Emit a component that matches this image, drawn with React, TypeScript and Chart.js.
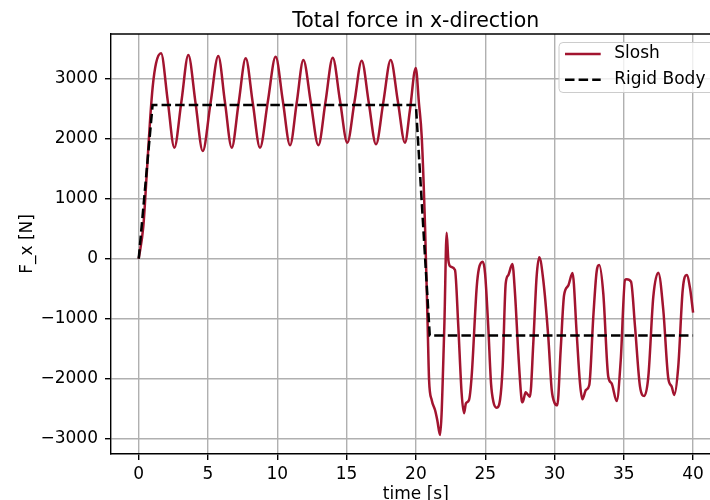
import React, { useEffect, useRef } from "react";
import { Chart, registerables } from "chart.js";

Chart.register(...registerables);

const titleText = "Total force in x-direction";
const xLabel = "time [s]";
const yLabel = "F_x [N]";
const seriesNames = ["Slosh", "Rigid Body"];

const xTicks = [0, 5, 10, 15, 20, 25, 30, 35, 40];
const yTicks = [-3000, -2000, -1000, 0, 1000, 2000, 3000];

const sloshT = [
  0, 0.33, 0.58, 0.82, 1.01, 1.25, 1.61, 2.09, 2.57, 3.08, 3.58, 4.1, 4.62, 5.18, 5.74, 6.22, 6.71, 7.21, 7.72,
  8.23, 8.75, 9.31, 9.88, 10.4, 10.92, 11.4, 11.88, 12.42, 12.96, 13.48, 14.0, 14.52, 15.05, 15.57, 16.09, 16.6,
  17.12, 17.65, 18.18, 18.7, 19.21, 19.57, 19.99, 20.22, 20.42, 20.66, 20.85, 20.95, 21.14, 21.38, 21.54, 21.74,
  22.05, 22.22, 22.34, 22.51, 22.82, 23.06, 23.3, 23.47, 23.61, 23.83, 24.02, 24.39, 24.55, 24.82, 24.99, 25.22,
  25.42, 25.59, 25.83, 26.07, 26.26, 26.48, 26.67, 26.96, 27.15, 27.39, 27.63, 27.7, 27.92, 28.06, 28.23, 28.47,
  28.71, 28.9, 29.19, 29.55, 29.8, 30.0, 30.2, 30.45, 30.69, 30.99, 31.3, 31.6, 31.84, 32.01, 32.27, 32.51, 32.8,
  33.04, 33.23, 33.52, 33.88, 34.12, 34.49, 34.78, 35.09, 35.21, 35.52, 35.81, 36.17, 36.48, 36.77, 37.13, 37.49,
  37.85, 38.21, 38.46, 38.64, 38.93, 39.25, 39.54, 39.78, 40.0,
];
const sloshF = [
  0, 533, 1423, 2312, 2867, 3257, 3423, 2640, 1850, 2620, 3395, 2595, 1795, 2590, 3378, 2614, 1850, 2595, 3340,
  2595, 1850, 2610, 3367, 2628, 1890, 2600, 3312, 2600, 1890, 2620, 3350, 2640, 1933, 2616, 3300, 2600,
  1906, 2610, 3312, 2620, 1933, 2478, 3180, 2590, 2033, 533, -1133, -2022, -2355, -2522, -2688, -2938,
  -1133, 433, -22, -133, -188, -1133, -2243, -2577, -2410, -2355, -1967, -467, -160, -50, -243, -1133,
  -2077, -2383, -2483, -2355, -1800, -410, -272, -88, -577, -1577, -2355, -2393, -2227, -2260, -2300, -1410,
  -300, 23, -355, -1300, -2188, -2400, -2443, -1500, -610, -450, -238, -1243, -2077, -2343, -2188, -2105, -967,
  -217, -105, -577, -1967, -2077, -2372, -1688, -355, -343, -383, -1133, -2133, -2288, -1967, -633, -233,
  -855, -1993, -2133, -2272, -1800, -522, -272, -493, -900,
];

const rigidT = [0, 1, 20, 21, 40];
const rigidF = [0, 2560, 2560, -1280, -1280];

const FONT = "'DejaVu Sans', 'Liberation Sans', sans-serif";
const SLOSH_COLOR = "#a2142f";

const decorPlugin = {
  id: "decor",
  afterDraw(chart: any) {
    const { ctx, chartArea } = chart;
    const { left, top, right, bottom } = chartArea;
    ctx.save();
    // top spine
    ctx.strokeStyle = "#000";
    ctx.lineWidth = 1.4;
    ctx.beginPath();
    ctx.moveTo(left, top);
    ctx.lineTo(right, top);
    ctx.stroke();

    // title
    ctx.fillStyle = "#000";
    ctx.font = `20.5px ${FONT}`;
    ctx.textAlign = "center";
    ctx.textBaseline = "alphabetic";
    const cx = 415.8;
    ctx.fillText(titleText, cx, 26.7);

    // x label
    ctx.font = `17px ${FONT}`;
    ctx.fillText(xLabel, cx, 499);

    // y label
    ctx.save();
    ctx.translate(31.5, (top + bottom) / 2);
    ctx.rotate(-Math.PI / 2);
    ctx.fillText(yLabel, 0, 0);
    ctx.restore();

    // legend
    const lx = 559, ly = 42.5, lw = 155, lh = 50;
    const r = 4;
    ctx.beginPath();
    ctx.moveTo(lx + r, ly);
    ctx.lineTo(lx + lw - r, ly);
    ctx.arcTo(lx + lw, ly, lx + lw, ly + r, r);
    ctx.lineTo(lx + lw, ly + lh - r);
    ctx.arcTo(lx + lw, ly + lh, lx + lw - r, ly + lh, r);
    ctx.lineTo(lx + r, ly + lh);
    ctx.arcTo(lx, ly + lh, lx, ly + lh - r, r);
    ctx.lineTo(lx, ly + r);
    ctx.arcTo(lx, ly, lx + r, ly, r);
    ctx.closePath();
    ctx.fillStyle = "rgba(255,255,255,0.8)";
    ctx.fill();
    ctx.strokeStyle = "#cccccc";
    ctx.lineWidth = 1;
    ctx.stroke();

    const rows = [54, 79.7];
    ctx.lineWidth = 2.5;
    ctx.strokeStyle = SLOSH_COLOR;
    ctx.setLineDash([]);
    ctx.beginPath();
    ctx.moveTo(565, rows[0]);
    ctx.lineTo(600.7, rows[0]);
    ctx.stroke();
    ctx.strokeStyle = "#000";
    ctx.setLineDash([9.5, 4.1]);
    ctx.beginPath();
    ctx.moveTo(565, rows[1]);
    ctx.lineTo(600.7, rows[1]);
    ctx.stroke();
    ctx.setLineDash([]);

    ctx.fillStyle = "#000";
    ctx.font = `17px ${FONT}`;
    ctx.textAlign = "left";
    ctx.textBaseline = "middle";
    ctx.fillText(seriesNames[0], 614.3, rows[0]);
    ctx.fillText(seriesNames[1], 614.3, rows[1]);
    ctx.restore();
  },
};

export default function App() {
  const canvasRef = useRef<HTMLCanvasElement | null>(null);

  useEffect(() => {
    const canvas = canvasRef.current;
    if (!canvas) return;
    const chart = new Chart(canvas, {
      type: "line",
      data: {
        datasets: [
          {
            label: seriesNames[0],
            data: sloshT.map((t, i) => ({ x: t, y: sloshF[i] })),
            borderColor: SLOSH_COLOR,
            borderWidth: 2.5,
            pointRadius: 0,
            cubicInterpolationMode: "monotone",
            fill: false,
            order: 2,
          },
          {
            label: seriesNames[1],
            data: rigidT.map((t, i) => ({ x: t, y: rigidF[i] })),
            borderColor: "#000",
            borderWidth: 2.5,
            borderDash: [9.5, 4.1],
            pointRadius: 0,
            tension: 0,
            fill: false,
            order: 1,
          },
        ],
      },
      options: {
        responsive: false,
        animation: false,
        devicePixelRatio: 1,
        layout: { padding: { top: 34, left: 0, right: 0, bottom: 0 } },
        plugins: {
          legend: { display: false },
          title: { display: false },
          tooltip: { enabled: false },
        },
        scales: {
          x: {
            type: "linear",
            min: -2,
            max: 41.22,
            afterBuildTicks: (scale: any) => {
              scale.ticks = xTicks.map((v) => ({ value: v }));
            },
            afterFit: (scale: any) => {
              scale.height = 46;
            },
            grid: {
              color: "#b0b0b0",
              lineWidth: 1.4,
              tickColor: "#000",
              tickLength: 6,
              tickWidth: 1.4,
            },
            border: { color: "#000", width: 1.4 },
            ticks: {
              color: "#000",
              font: { family: FONT, size: 17 },
              padding: 4,
              maxRotation: 0,
              callback: (v: any) => String(v).replace("-", "\u2212"),
            },
          },
          y: {
            type: "linear",
            min: -3255,
            max: 3745,
            afterBuildTicks: (scale: any) => {
              scale.ticks = yTicks.map((v) => ({ value: v }));
            },
            afterFit: (scale: any) => {
              scale.width = 111;
            },
            grid: {
              color: "#b0b0b0",
              lineWidth: 1.4,
              tickColor: "#000",
              tickLength: 6,
              tickWidth: 1.4,
            },
            border: { color: "#000", width: 1.4 },
            ticks: {
              color: "#000",
              font: { family: FONT, size: 17 },
              padding: 7,
              callback: (v: any) => String(v).replace("-", "\u2212"),
            },
          },
        },
      },
      plugins: [decorPlugin],
    } as any);
    return () => chart.destroy();
  }, []);

  return (
    <canvas
      ref={canvasRef}
      width={710}
      height={500}
      style={{ position: "absolute", left: 0, top: 0, width: 710, height: 500 }}
    />
  );
}
